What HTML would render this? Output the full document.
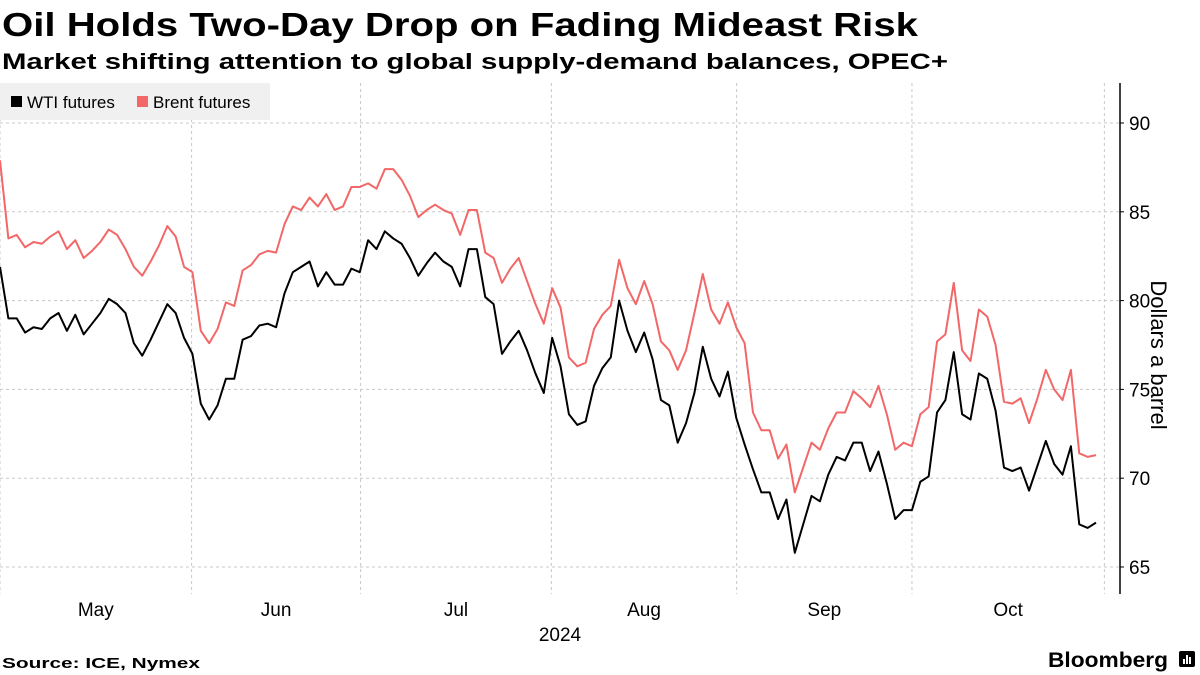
<!DOCTYPE html>
<html><head><meta charset="utf-8"><style>
html,body{margin:0;padding:0;background:#fff;}
svg{display:block;font-family:"Liberation Sans","DejaVu Sans",sans-serif;}
</style></head><body>
<svg id="chart" width="1200" height="675" viewBox="0 0 1200 675" xmlns="http://www.w3.org/2000/svg">
<text x="2" y="36" font-size="33" font-weight="bold" textLength="916" lengthAdjust="spacingAndGlyphs" fill="#000">Oil Holds Two-Day Drop on Fading Mideast Risk</text>
<text x="2" y="69" font-size="22" font-weight="bold" textLength="946" lengthAdjust="spacingAndGlyphs" fill="#000">Market shifting attention to global supply-demand balances, OPEC+</text>
<g id="grid"></g>
<rect x="0" y="83" width="270" height="37" fill="#f0f0f0"/>
<g>
<rect x="11" y="96" width="11" height="11" fill="#000"/>
<text x="27" y="108" font-size="17" fill="#000">WTI futures</text>
</g>
<g>
<rect x="137" y="96" width="11" height="11" fill="#f26767"/>
<text x="153" y="108" font-size="17" fill="#000">Brent futures</text>
</g>
<g id="series"></g>
<g id="yaxis"></g>
<g id="xaxis"></g>
<text transform="translate(1151,355) rotate(90)" text-anchor="middle" font-size="22" fill="#000">Dollars a barrel</text>
<text x="560" y="641" text-anchor="middle" font-size="19" fill="#000">2024</text>
<text x="2" y="668" font-size="15" font-weight="bold" textLength="198" lengthAdjust="spacingAndGlyphs" fill="#000">Source: ICE, Nymex</text>
<text x="1048" y="667" font-size="21" font-weight="bold" textLength="120" lengthAdjust="spacingAndGlyphs" fill="#000">Bloomberg</text>
<g>
<rect x="1179" y="651" width="16" height="16" rx="2" fill="#000"/>
<rect x="1183" y="659" width="2" height="5" fill="#fff"/><rect x="1186" y="655" width="2" height="9" fill="#fff"/><rect x="1189" y="657" width="2" height="7" fill="#fff"/>
</g>
</svg>
<script>
const wti = [81.9,79.0,79.0,78.2,78.5,78.4,79.0,79.3,78.3,79.2,78.1,78.7,79.3,80.1,79.8,79.3,77.6,76.9,77.8,78.8,79.8,79.3,77.9,77.0,74.2,73.3,74.1,75.6,75.6,77.8,78.0,78.6,78.7,78.5,80.4,81.6,81.9,82.2,80.8,81.6,80.9,80.9,81.8,81.6,83.4,82.9,
83.9,83.5,83.2,82.4,81.4,82.1,82.7,82.2,81.9,80.8,82.9,82.9,80.2,79.8,77.0,77.7,78.3,77.2,75.9,74.8,77.9,76.3,73.6,73.0,73.2,75.2,76.2,76.8,80.0,78.3,77.1,78.2,76.7,74.4,74.1,72.0,73.1,74.8,77.4,75.6,74.6,76.0,
73.4,71.9,70.5,69.2,69.2,67.7,68.8,65.8,67.4,69.0,68.7,70.2,71.2,71.0,72.0,72.0,70.4,71.5,69.7,67.7,68.2,68.2,69.8,70.1,73.7,74.4,77.1,73.6,73.3,75.9,75.6,73.8,70.6,70.4,70.6,69.3,70.7,72.1,70.8,70.2,71.8,67.4,67.2,67.5];
const brent = [87.9,83.5,83.7,83.0,83.3,83.2,83.6,83.9,82.9,83.4,82.4,82.8,83.3,84.0,83.7,82.9,81.9,81.4,82.2,83.1,84.2,83.6,81.9,81.6,78.3,77.6,78.4,79.9,79.7,81.7,82.0,82.6,82.8,82.7,84.3,85.3,85.1,85.8,85.3,86.0,85.1,85.3,86.4,86.4,86.6,86.3,
87.4,87.4,86.8,85.9,84.7,85.1,85.4,85.1,84.9,83.7,85.1,85.1,82.7,82.4,81.0,81.8,82.4,81.1,79.8,78.7,80.7,79.6,76.8,76.3,76.5,78.4,79.2,79.7,82.3,80.7,79.8,81.1,79.8,77.7,77.2,76.1,77.2,79.3,81.5,79.5,78.7,79.9,
78.5,77.6,73.7,72.7,72.7,71.1,71.9,69.2,70.6,72.0,71.6,72.8,73.7,73.7,74.9,74.5,74.0,75.2,73.6,71.6,72.0,71.8,73.6,74.0,77.7,78.1,81.0,77.2,76.6,79.5,79.1,77.5,74.3,74.2,74.5,73.1,74.5,76.1,75.0,74.4,76.1,71.4,71.2,71.3];
const yTicks = [65,70,75,80,85,90];
const monthLabels = ["May","Jun","Jul","Aug","Sep","Oct"];
const monthBounds = [0,22.9,43.1,65.9,88.05,109,132];

const NS = "http://www.w3.org/2000/svg";
const plotLeft = 0, plotRight = 1120, plotTop = 83, plotBottom = 594;
const step = 1096 / 131;
function xScale(i){ return plotLeft + i * step; }
function yScale(v){ return 123 + (90 - v) * 17.76; }
function mk(tag, attrs, parent){ const e = document.createElementNS(NS, tag); for (const k in attrs) e.setAttribute(k, attrs[k]); parent.appendChild(e); return e; }

const grid = document.getElementById('grid');
yTicks.forEach(t => {
  const l = mk('line', {x1: plotLeft, x2: plotRight, y1: yScale(t), y2: yScale(t), stroke: '#c8c8c8', 'stroke-width': 1, 'stroke-dasharray': '3,3'}, grid);
  
  
});
monthBounds.forEach(b => {
  const l = mk('line', {x1: xScale(b), x2: xScale(b), y1: plotTop, y2: plotBottom, stroke: '#c8c8c8', 'stroke-width': 1, 'stroke-dasharray': '3,3'}, grid);
  
  
});

const series = document.getElementById('series');
function drawLine(data, color, name){
  const d = data.map((v, i) => (i ? 'L' : 'M') + xScale(i).toFixed(2) + ',' + yScale(v).toFixed(2)).join(' ');
  const p = mk('path', {d: d, fill: 'none', stroke: color, 'stroke-width': 2, 'stroke-linejoin': 'round'}, series);
  
  
}
drawLine(brent, '#f26767', 'brent-line');
drawLine(wti, '#000000', 'wti-line');

const yaxis = document.getElementById('yaxis');
const ax = mk('line', {x1: plotRight, x2: plotRight, y1: plotTop, y2: plotBottom, stroke: '#000', 'stroke-width': 1.5}, yaxis);


yTicks.forEach(t => {
  const tk = mk('line', {x1: plotRight, x2: plotRight + 4, y1: yScale(t), y2: yScale(t), stroke: '#000', 'stroke-width': 1}, yaxis);
  
  
  const tx = mk('text', {x: 1129, y: yScale(t) + 7, 'font-size': 19, fill: '#000'}, yaxis);
  tx.textContent = t;
  
  
});

const xaxis = document.getElementById('xaxis');
monthLabels.forEach((m, i) => {
  const cx = (xScale(monthBounds[i]) + xScale(monthBounds[i + 1])) / 2;
  const tx = mk('text', {x: cx, y: 616, 'text-anchor': 'middle', 'font-size': 19, fill: '#000'}, xaxis);
  tx.textContent = m;
  
  
});
</script>
</body></html>
